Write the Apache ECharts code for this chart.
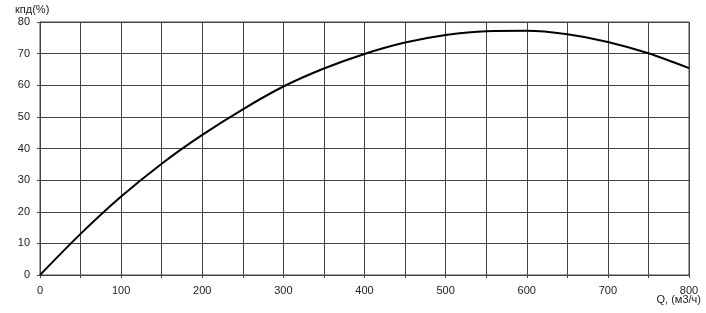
<!DOCTYPE html>
<html>
<head>
<meta charset="utf-8">
<script src="https://cdn.jsdelivr.net/npm/echarts@6/dist/echarts.min.js"></script>
<style>html,body{margin:0;padding:0;background:#fff;}#c{width:706px;height:313px;}</style>
</head>
<body>
<div id="c"></div>
<script>
const flowQ = [0, 50, 100, 150, 200, 250, 300, 350, 400, 450, 500, 550, 600, 650, 700, 750, 800];
const efficiency = [0, 13, 24.8, 35.2, 44.3, 52.4, 59.6, 65.3, 69.9, 73.5, 75.9, 77.1, 77.2, 76.1, 73.7, 70.1, 65.4];
const yAxisTitle = 'кпд(%)';
const xAxisTitle = 'Q, (м3/ч)';

const chart = echarts.init(document.getElementById('c'), null, {renderer: 'canvas'});
const font = 'Liberation Sans, Arial, sans-serif';
const lineCol = '#444';
chart.setOption({
  animation: false,
  backgroundColor: '#fff',
  grid: {left: 40, right: 17, top: 22, bottom: 38, show: true, borderColor: lineCol, borderWidth: 1},
  xAxis: {
    type: 'value', min: 0, max: 800, interval: 50,
    axisLine: {show: true, lineStyle: {color: lineCol}},
    axisTick: {show: true, length: 3, lineStyle: {color: lineCol}},
    splitLine: {show: true, lineStyle: {color: lineCol, width: 1}},
    axisLabel: {color: '#222', fontFamily: font, fontSize: 11, margin: 10,
      formatter: v => (v % 100 === 0 ? String(v) : '')}
  },
  yAxis: {
    type: 'value', min: 0, max: 80, interval: 10,
    axisLine: {show: true, lineStyle: {color: lineCol}},
    axisTick: {show: true, length: 3, lineStyle: {color: lineCol}},
    splitLine: {show: true, lineStyle: {color: lineCol, width: 1}},
    axisLabel: {color: '#222', fontFamily: font, fontSize: 11, margin: 10}
  },
  graphic: [
    {type: 'text', left: 15, top: 4, style: {text: yAxisTitle, fill: '#222', font: '11px ' + font}},
    {type: 'text', right: 5, top: 294, style: {text: xAxisTitle, fill: '#222', font: '11px ' + font}}
  ],
  series: [{
    type: 'line',
    data: flowQ.map((q, i) => [q, efficiency[i]]),
    smooth: 0.3,
    showSymbol: false,
    lineStyle: {color: '#000', width: 2}
  }]
});
</script>
</body>
</html>
